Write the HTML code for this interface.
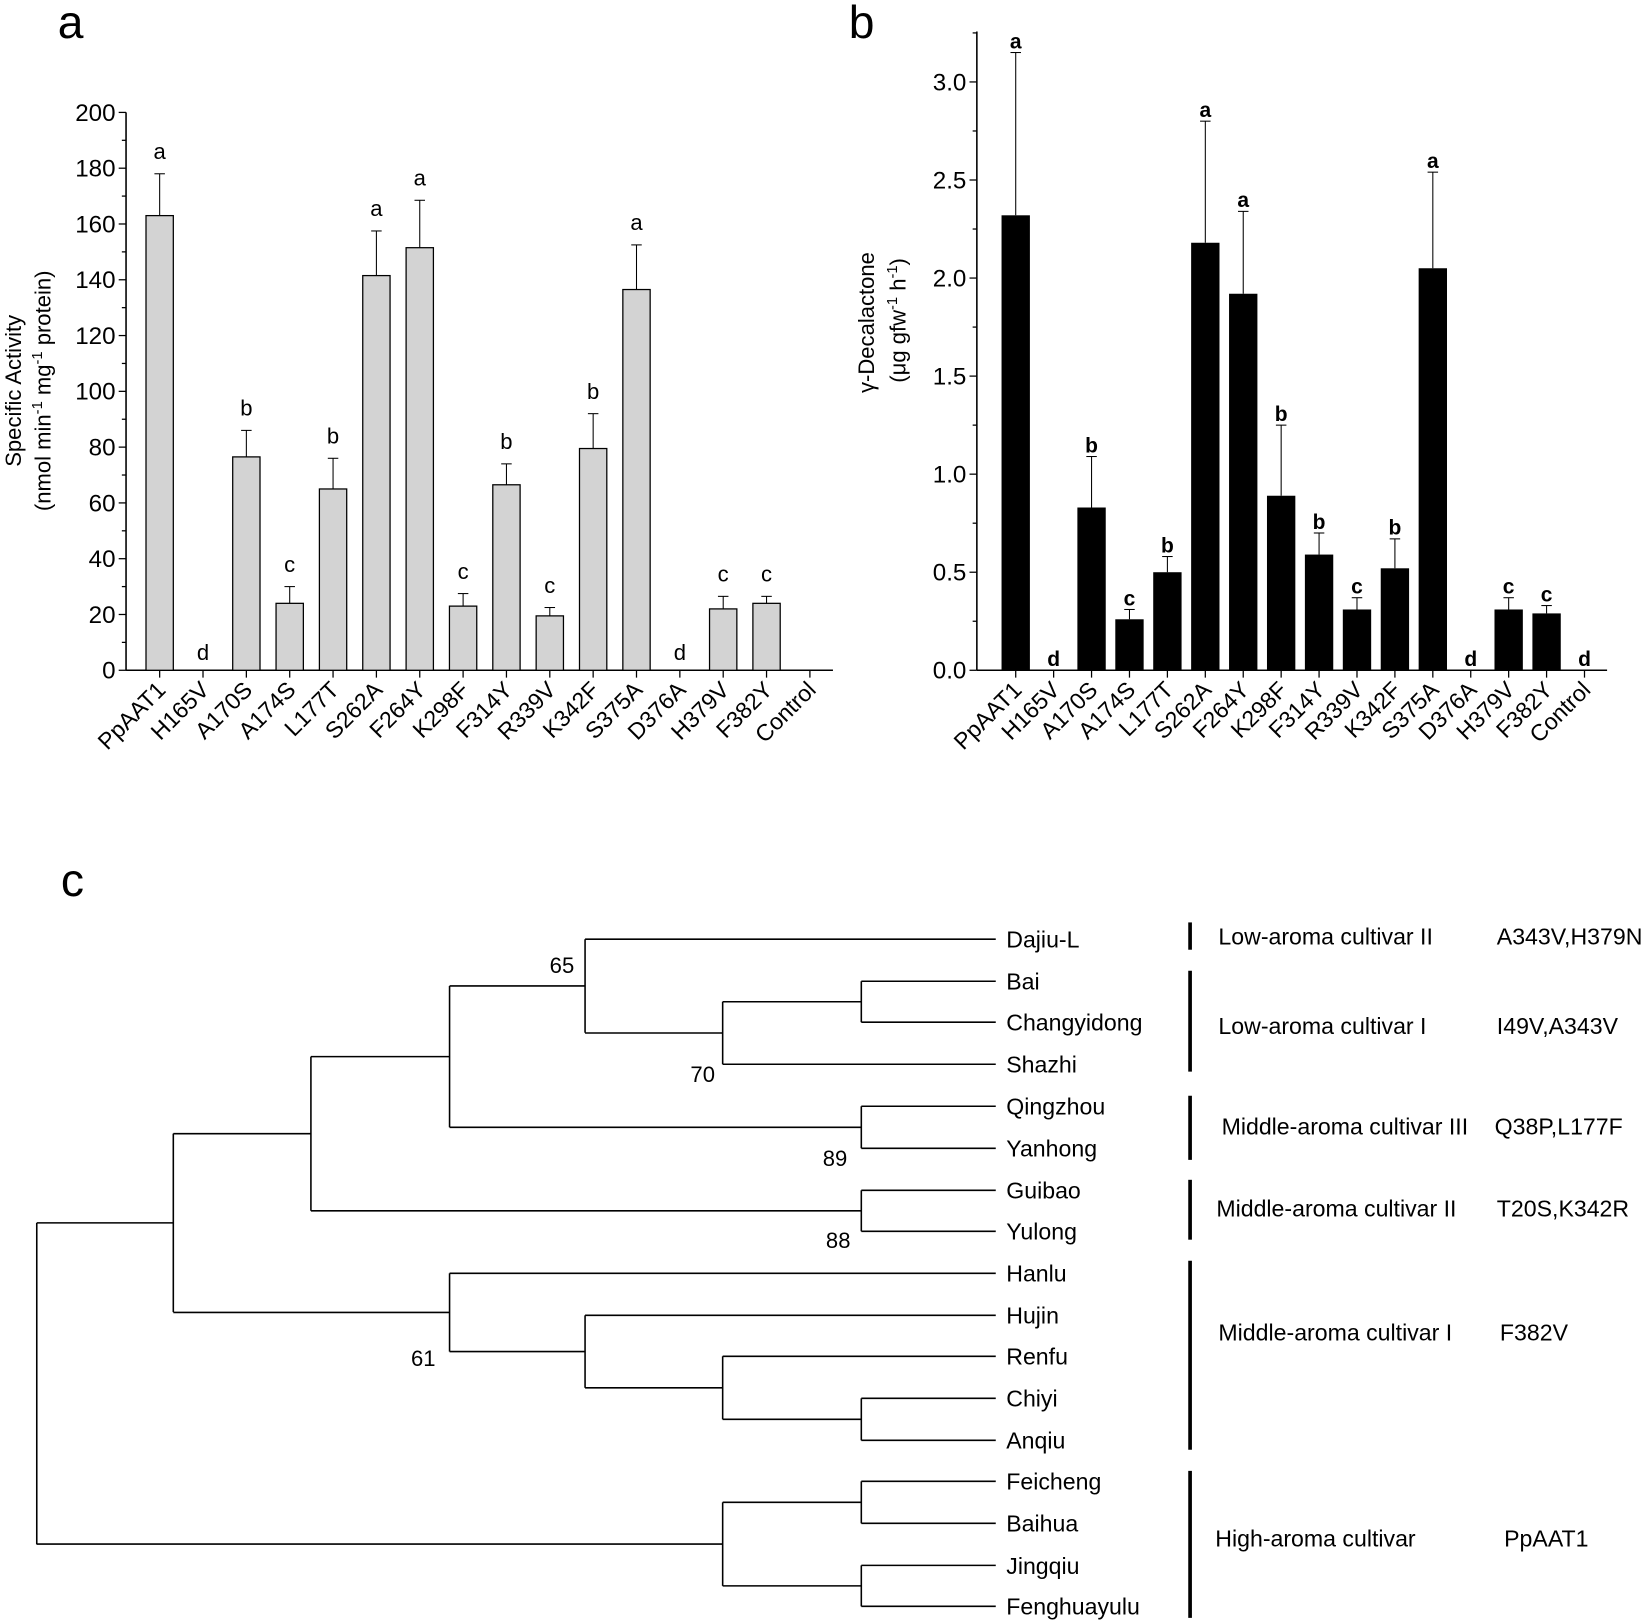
<!DOCTYPE html>
<html><head><meta charset="utf-8"><style>
html,body{margin:0;padding:0;background:#fff}
svg{display:block}
text{font-family:"Liberation Sans",sans-serif;fill:#000}
</style></head><body>
<svg width="1647" height="1620" viewBox="0 0 1568 1542" preserveAspectRatio="none" xmlns="http://www.w3.org/2000/svg">
<text x="55" y="36" font-size="44">a</text>
<text x="808" y="36" font-size="44">b</text>
<text x="58" y="853" font-size="44">c</text>
<g id="pa"></g>
<g id="pb"></g>
<g id="tree" stroke="#000" stroke-width="1.5" fill="none"></g>
<g id="tt"></g>
</svg>
<script>
const NS="http://www.w3.org/2000/svg";
function el(p,t,a,txt){const e=document.createElementNS(NS,t);for(const k in a)e.setAttribute(k,a[k]);if(txt!==undefined)e.textContent=txt;p.appendChild(e);return e;}
const cats=["PpAAT1","H165V","A170S","A174S","L177T","S262A","F264Y","K298F","F314Y","R339V","K342F","S375A","D376A","H379V","F382Y","Control"];
const TF=23, CF=22;
// Panel a
(function(){
const g=document.getElementById('pa');
const x0=120,y0=638,yt=107,xE=793,c0=152,sp=41.27,w=26;
const Y=v=>y0-(v/200)*(y0-yt);
el(g,'line',{x1:x0,y1:yt,x2:x0,y2:y0,stroke:'#000','stroke-width':1.5});
el(g,'line',{x1:x0,y1:y0,x2:xE,y2:y0,stroke:'#000','stroke-width':1.5});
for(let v=0;v<=200;v+=10){const y=Y(v);el(g,'line',{x1:x0-(v%20?4:7),y1:y,x2:x0,y2:y,stroke:'#000','stroke-width':1.2});
 if(v%20==0)el(g,'text',{x:x0-10,y:y+8,'font-size':TF,'text-anchor':'end'},v);}
const vals=[163,0,76.5,24,65,141.5,151.5,23,66.5,19.5,79.5,136.5,0,22,24,0];
const err=[178,null,86,30,76,157.5,168.5,27.5,74,22.5,92,152.5,null,26.5,26.5,null];
const let_=["a","d","b","c","b","a","a","c","b","c","b","a","d","c","c",""];
cats.forEach((c,i)=>{const cx=c0+i*sp;
 el(g,'line',{x1:cx,y1:y0,x2:cx,y2:y0+7,stroke:'#000','stroke-width':1.2});
 if(vals[i]>0){
  if(err[i]){el(g,'line',{x1:cx,y1:Y(vals[i]),x2:cx,y2:Y(err[i]),stroke:'#000','stroke-width':1});
   el(g,'line',{x1:cx-5,y1:Y(err[i]),x2:cx+5,y2:Y(err[i]),stroke:'#000','stroke-width':1});}
  el(g,'rect',{x:cx-w/2,y:Y(vals[i]),width:w,height:y0-Y(vals[i]),fill:'#d3d3d3',stroke:'#000','stroke-width':1.2});
 }
 const ly=err[i]?Y(err[i])-14:y0-10;
 if(let_[i])el(g,'text',{x:cx,y:ly,'font-size':21,'text-anchor':'middle'},let_[i]);
 el(g,'text',{x:cx+7,y:y0+20,'font-size':CF,'text-anchor':'end',transform:`rotate(-45 ${cx+7} ${y0+20})`},c);
});
el(g,'text',{x:0,y:0,'font-size':21,'text-anchor':'middle',transform:'translate(20 372) rotate(-90)'},'Specific Activity');
const t=el(g,'text',{x:0,y:0,'font-size':21,'text-anchor':'middle',transform:'translate(48 372) rotate(-90)'});
t.innerHTML='(nmol min<tspan dy="-8" font-size="14">-1</tspan><tspan dy="8"> mg</tspan><tspan dy="-8" font-size="14">-1</tspan><tspan dy="8"> protein)</tspan>';
})();
// Panel b
(function(){
const g=document.getElementById('pb');
const x0=930,y0=638,xE=1530,c0=967,sp=36.1,w=27;
const k=(638-78)/3.0;const Y=v=>y0-v*k;
el(g,'line',{x1:x0,y1:30,x2:x0,y2:y0,stroke:'#000','stroke-width':1.5});
el(g,'line',{x1:x0,y1:y0,x2:xE,y2:y0,stroke:'#000','stroke-width':1.5});
for(let i=0;i<=13;i++){const v=i*0.25;const y=Y(v);if(y<30)break;el(g,'line',{x1:x0-(i%2?4:7),y1:y,x2:x0,y2:y,stroke:'#000','stroke-width':1.2});
 if(i%2==0)el(g,'text',{x:x0-10,y:y+8,'font-size':TF,'text-anchor':'end'},v.toFixed(1));}
const vals=[2.32,0,0.83,0.26,0.50,2.18,1.92,0.89,0.59,0.31,0.52,2.05,0,0.31,0.29,0];
const err=[3.15,null,1.09,0.31,0.58,2.80,2.34,1.25,0.70,0.37,0.67,2.54,null,0.37,0.33,null];
const let_=["a","d","b","c","b","a","a","b","b","c","b","a","d","c","c","d"];
cats.forEach((c,i)=>{const cx=c0+i*sp;
 el(g,'line',{x1:cx,y1:y0,x2:cx,y2:y0+7,stroke:'#000','stroke-width':1.2});
 if(vals[i]>0){
  el(g,'line',{x1:cx,y1:Y(vals[i]),x2:cx,y2:Y(err[i]),stroke:'#000','stroke-width':1});
  el(g,'line',{x1:cx-5,y1:Y(err[i]),x2:cx+5,y2:Y(err[i]),stroke:'#000','stroke-width':1});
  el(g,'rect',{x:cx-w/2,y:Y(vals[i]),width:w,height:y0-Y(vals[i]),fill:'#000'});
 }
 const ly=err[i]?Y(err[i])-4:y0-4;
 el(g,'text',{x:cx,y:ly,'font-size':20,'font-weight':'bold','text-anchor':'middle'},let_[i]);
 el(g,'text',{x:cx+7,y:y0+20,'font-size':CF,'text-anchor':'end',transform:`rotate(-45 ${cx+7} ${y0+20})`},c);
});
el(g,'text',{x:0,y:0,'font-size':21,'text-anchor':'middle',transform:'translate(832 307) rotate(-90)'},'γ-Decalactone');
const t=el(g,'text',{x:0,y:0,'font-size':21,'text-anchor':'middle',transform:'translate(862 305) rotate(-90)'});
t.innerHTML='(μg gfw<tspan dy="-8" font-size="14">-1</tspan><tspan dy="8"> h</tspan><tspan dy="-8" font-size="14">-1</tspan><tspan dy="8">)</tspan>';
})();
// Tree
(function(){
const g=document.getElementById('tree'),tt=document.getElementById('tt');
const leaves=["Dajiu-L","Bai","Changyidong","Shazhi","Qingzhou","Yanhong","Guibao","Yulong","Hanlu","Hujin","Renfu","Chiyi","Anqiu","Feicheng","Baihua","Jingqiu","Fenghuayulu"];
const ly=[894,934,973,1013,1053,1093,1133,1172,1212,1252,1291,1331,1371,1410,1450,1490,1529];
function L(x1,y1,x2,y2){el(g,'line',{x1,y1,x2,y2});}
const par=[557,820,820,688,820,820,820,820,428,557,688,820,820,820,820,820,820];
leaves.forEach((n,i)=>{L(par[i],ly[i],948,ly[i]);el(tt,'text',{x:958,y:ly[i]+8,'font-size':22},n);});
const nodes=[
[820,934,973,688],[688,953.5,1013,557],[557,894,983,428],[820,1053,1093,428],[428,938.5,1073,296],
[820,1133,1172,296],[296,1005.75,1152.5,165],
[820,1331,1371,688],[688,1291,1351,557],[557,1252,1321,428],[428,1212,1286.5,165],[165,1079,1249,35],
[820,1410,1450,688],[820,1490,1529,688],[688,1430,1509.5,35],[35,1164,1470,null]];
nodes.forEach(n=>{L(n[0],n[1],n[0],n[2]);if(n[3]!==null)L(n[3],(n[1]+n[2])/2,n[0],(n[1]+n[2])/2);});
[[535,926,'65'],[669,1030,'70'],[795,1110,'89'],[798,1188,'88'],[403,1300,'61']].forEach(b=>el(tt,'text',{x:b[0],y:b[1],'font-size':21,'text-anchor':'middle'},b[2]));
const grp=[[878,904,'Low-aroma cultivar II','A343V,H379N',1160,1425,891],[924,1020,'Low-aroma cultivar I','I49V,A343V',1160,1425,976],
[1043,1104,'Middle-aroma cultivar III','Q38P,L177F',1163,1423,1072],[1123,1180,'Middle-aroma cultivar II','T20S,K342R',1158,1425,1150],
[1200,1380,'Middle-aroma cultivar I','F382V',1160,1428,1268],[1400,1540,'High-aroma cultivar','PpAAT1',1157,1432,1464]];
grp.forEach(r=>{el(tt,'line',{x1:1133,y1:r[0],x2:1133,y2:r[1],stroke:'#000','stroke-width':3.5});
 el(tt,'text',{x:r[4],y:r[6]+8,'font-size':22},r[2]);
 el(tt,'text',{x:r[5],y:r[6]+8,'font-size':22},r[3]);});
})();
</script>
</body></html>
